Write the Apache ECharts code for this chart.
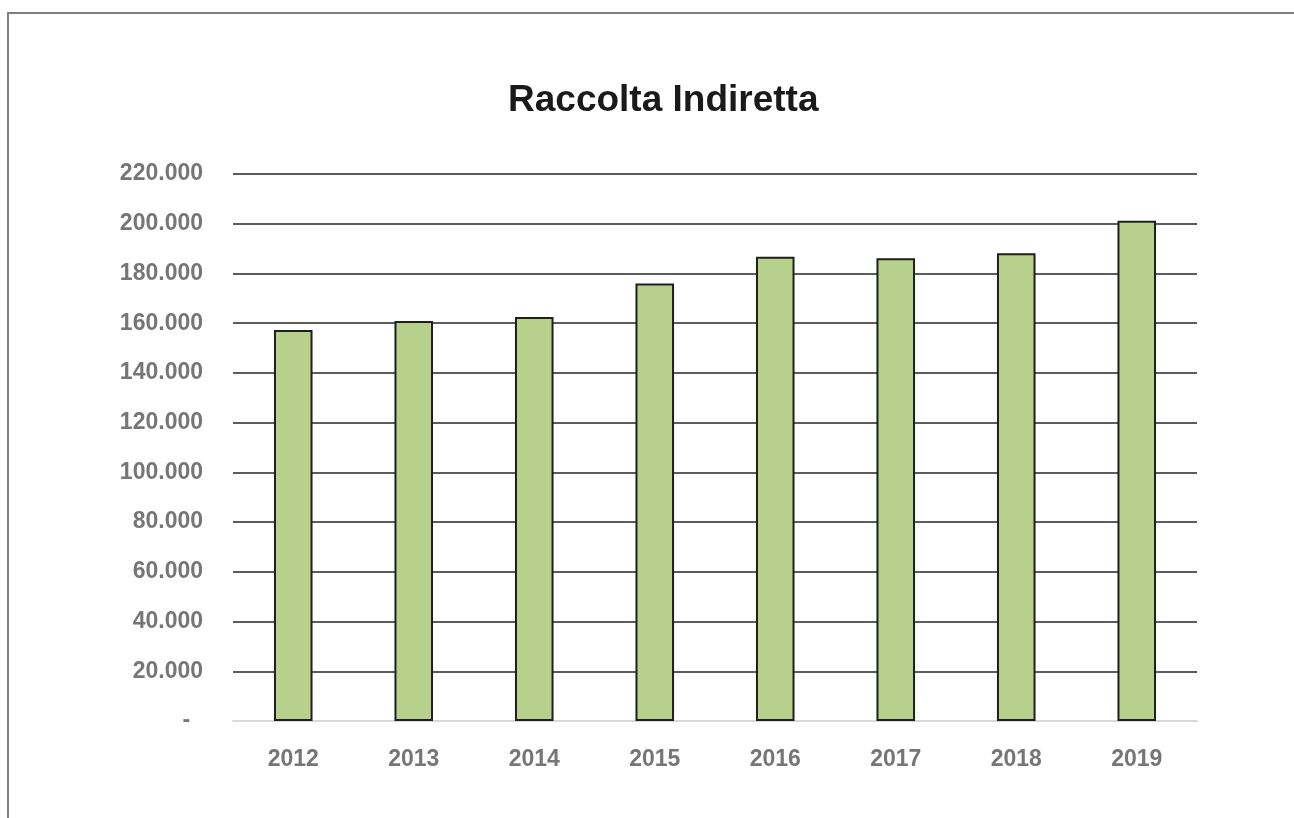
<!DOCTYPE html>
<html>
<head>
<meta charset="utf-8">
<script src="https://cdn.jsdelivr.net/npm/echarts@6/dist/echarts.min.js"></script>
<style>
  html, body { margin: 0; padding: 0; background: #fff; }
  #frame { position: absolute; left: 7px; top: 12px; width: 1400px; height: 900px; border-left: 2px solid #7f7f7f; border-top: 2px solid #7f7f7f; }
  #chart { position: absolute; left: 0; top: 0; width: 1294px; height: 818px; }
</style>
</head>
<body>
<div id="frame"></div>
<div id="chart"></div>
<script>
// anni e valori (migliaia di euro)
const years = ['2012', '2013', '2014', '2015', '2016', '2017', '2018', '2019'];
const raccolta = [157300, 160900, 162500, 176000, 186700, 186100, 188100, 201200];
const yMax = 220000;
const yStep = 20000;

function fmtIt(v) {
    if (v === 0) return '-  ';   // formato contabile: zero come trattino
    return v.toString().replace(/\B(?=(\d{3})+(?!\d))/g, '.');
}

let chart = echarts.init(document.getElementById('chart'));
const labelFont = "'Liberation Sans Narrow', 'Arial Narrow', Arial, sans-serif";

chart.setOption({
    animation: false,
    title: {
        text: 'Raccolta Indiretta',
        left: 503,
        top: 77,
        textStyle: { fontFamily: 'Liberation Sans, Arial, sans-serif', fontSize: 37, fontWeight: 'bold', color: '#1a1a1a' }
    },
    grid: { left: 233, right: 97, top: 174, bottom: 97 },
    xAxis: {
        type: 'category',
        data: years,
        axisLine: { lineStyle: { color: '#d9d9d9', width: 2 } },
        axisTick: { show: false },
        axisLabel: { margin: 27, fontFamily: labelFont, fontSize: 23, fontWeight: 'bold', color: '#767676' }
    },
    yAxis: {
        type: 'value',
        min: 0,
        max: yMax,
        interval: yStep,
        axisLine: { show: false },
        axisTick: { show: false },
        axisLabel: {
            margin: 30, fontFamily: labelFont, fontSize: 23, fontWeight: 'bold', color: '#767676',
            formatter: fmtIt
        },
        splitLine: { lineStyle: { color: '#262626', width: 1.5 } }
    },
    series: [{
        type: 'bar',
        data: raccolta,
        barWidth: '32%',
        itemStyle: { color: '#b7d08b', borderColor: '#1f1f1f', borderWidth: 2 }
    }]
});
</script>
</body>
</html>
